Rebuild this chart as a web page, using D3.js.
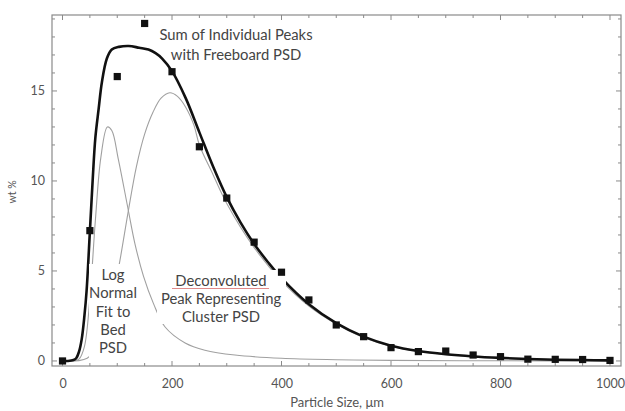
<!DOCTYPE html>
<html><head><meta charset="utf-8">
<script src="https://cdn.jsdelivr.net/npm/d3@7"></script>
<style>body{margin:0;background:#fff}svg{display:block}text{font-family:Lato,"Open Sans",sans-serif}</style>
</head><body><svg id="c" width="625" height="411"></svg>
<script>
// Measured points (wt %)
const pointX = [0,50,100,150,200,250,300,350,400,450,500,550,600,650,700,750,800,850,900,950,1000];
const pointY = [0,7.24,15.8,18.75,16.07,11.9,9.05,6.6,4.93,3.39,2.0,1.35,0.74,0.52,0.55,0.33,0.24,0.1,0.09,0.08,0.03];
// Sum of individual peaks (black curve)
const sumX = [0,10,20,25,30,35,40,44,50,55,60,66,72,81,90,103,121,140,157,170,182,200,225,250,275,300,325,350,375,400,450,500,550,600,650,700,750,800,850,900,950,1000];
const sumY = [0,0,0.05,0.15,0.5,1.2,2.5,3.9,7.2,10.0,12.4,14.0,15.5,16.8,17.3,17.45,17.5,17.4,17.3,17.1,16.8,16.1,14.6,12.7,10.8,9.1,7.7,6.5,5.5,4.6,3.15,2.1,1.35,0.85,0.55,0.37,0.25,0.17,0.11,0.07,0.05,0.03];
// Log normal fit to bed PSD (grey)
const bedX = [0,20,30,40,50,60,70,82,90,102,120,132,148,166,187,224,260,315,400,500,600,800,1000];
const bedY = [0,0.02,0.1,0.8,3.5,7.8,11.3,13.0,12.8,11.2,8.4,6.55,4.7,3.2,1.9,1.0,0.6,0.33,0.15,0.07,0.03,0.01,0];
// Deconvoluted peak, cluster PSD (grey)
const clusterX = [0,30,45,60,75,90,105,120,135,150,165,180,196,210,225,240,250,275,300,350,400,450,500,550,600,650,700,750,800,850,900,950,1000];
const clusterY = [0,0.02,0.15,0.6,1.5,3.2,5.6,8.3,10.8,12.6,13.8,14.6,14.9,14.7,14.1,13.1,12.0,10.35,8.75,6.3,4.45,3.05,2.05,1.3,0.82,0.53,0.36,0.24,0.16,0.1,0.07,0.05,0.03];
const xTicks = [0,200,400,600,800,1000];
const yTicks = [0,5,10,15];
const xTitle = "Particle Size, \u03bcm";
const yTitle = "wt %";
const sumLabel = ["Sum of Individual Peaks","with Freeboard PSD"];
const bedLabel = ["Log","Normal","Fit to","Bed","PSD"];
const clusterLabel = ["Deconvoluted","Peak Representing","Cluster PSD"];

const svg = d3.select("#c");
const L=52,R=621,T=15,B=366;
const x = d3.scaleLinear().domain([-19.2,1020.1]).range([L,R]);
const y = d3.scaleLinear().domain([-0.28,19.22]).range([B,T]);

svg.append("clipPath").attr("id","clip").append("rect").attr("x",L).attr("y",T).attr("width",R-L).attr("height",B-T);

const line = d3.line().x(d=>x(d[0])).y(d=>y(Math.max(0,d[1]))).curve(d3.curveCatmullRom.alpha(0.5));
const g = svg.append("g").attr("clip-path","url(#clip)");
g.append("path").attr("d",line(bedX.map((v,i)=>[v,bedY[i]]))).attr("fill","none").attr("stroke","#a0a0a0").attr("stroke-width",1.1);
g.append("path").attr("d",line(clusterX.map((v,i)=>[v,clusterY[i]]))).attr("fill","none").attr("stroke","#a0a0a0").attr("stroke-width",1.1);

// label backgrounds
svg.append("rect").attr("x",89).attr("y",264).attr("width",50).attr("height",94).attr("fill","#fff");
svg.append("rect").attr("x",157).attr("y",270).attr("width",129).attr("height",54).attr("fill","#fff");

g.append("path").attr("d",line(sumX.map((v,i)=>[v,sumY[i]]))).attr("fill","none").attr("stroke","#111").attr("stroke-width",2.6);

// frame and ticks
const axisCol="#8a8a8a";
svg.append("rect").attr("x",L).attr("y",T).attr("width",R-L).attr("height",B-T).attr("fill","none").attr("stroke",axisCol).attr("stroke-width",1.2);
const xMinor = d3.range(0,1001,50), yMinor = d3.range(0,20,1);
const tk = svg.append("g").attr("stroke",axisCol).attr("stroke-width",1);
xMinor.forEach(v=>{const len = xTicks.includes(v)?5:3;
  tk.append("line").attr("x1",x(v)).attr("x2",x(v)).attr("y1",B).attr("y2",B-len);
  tk.append("line").attr("x1",x(v)).attr("x2",x(v)).attr("y1",T).attr("y2",T+len);});
yMinor.forEach(v=>{const len = yTicks.includes(v)?5:3;
  tk.append("line").attr("y1",y(v)).attr("y2",y(v)).attr("x1",L).attr("x2",L+len);
  tk.append("line").attr("y1",y(v)).attr("y2",y(v)).attr("x1",R).attr("x2",R-len);});

// tick labels via axes (no lines)
const xa = svg.append("g").attr("transform",`translate(0,${B})`).call(d3.axisBottom(x).tickValues(xTicks).tickFormat(d3.format("d")).tickSize(0).tickPadding(13));
const ya = svg.append("g").attr("transform",`translate(${L},0)`).call(d3.axisLeft(y).tickValues(yTicks).tickFormat(d3.format("d")).tickSize(0).tickPadding(7));
[xa,ya].forEach(a=>{a.select(".domain").remove(); a.selectAll("text").attr("fill","#555").style("font-size","12.5px").style("font-family","Lato,sans-serif");});

// points
svg.append("g").selectAll("rect").data(pointX.map((v,i)=>[v,pointY[i]])).join("rect")
  .attr("x",d=>x(d[0])-3.6).attr("y",d=>y(d[1])-3.6).attr("width",7.2).attr("height",7.2).attr("fill","#111");

// titles
svg.append("text").attr("x",337).attr("y",407).attr("text-anchor","middle").attr("fill","#555").style("font-size","13px").text(xTitle);
svg.append("text").attr("transform","translate(16,192) rotate(-90)").attr("text-anchor","middle").attr("fill","#555").style("font-size","10.5px").text(yTitle);

// annotations
const ann = (lines,cx,y0,dy)=>lines.forEach((s,i)=>svg.append("text").attr("x",cx).attr("y",y0+i*dy).attr("text-anchor","middle").attr("fill","#444").style("font-size","14.8px").text(s));
ann(sumLabel,236,40,20);
ann(bedLabel,113,280,18.3);
ann(clusterLabel,221,286,18);
svg.append("line").attr("x1",172).attr("x2",269).attr("y1",288.5).attr("y2",288.5).attr("stroke","#e08a8a").attr("stroke-width",1);
</script></body></html>
